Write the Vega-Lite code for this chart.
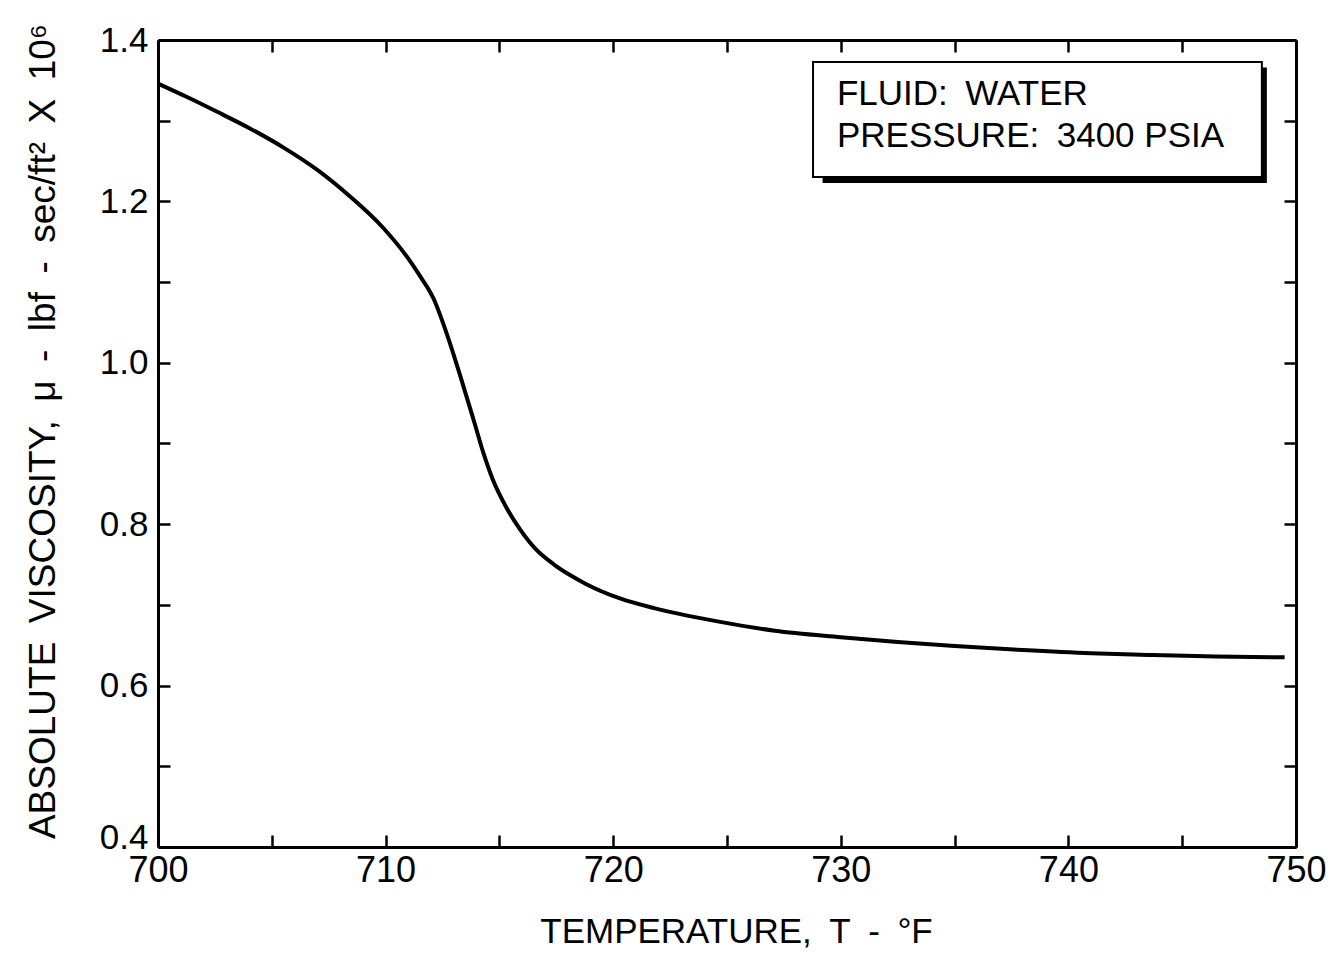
{
  "$schema": "https://vega.github.io/schema/vega-lite/v6.json",
  "width": 1138,
  "height": 807,
  "autosize": "none",
  "padding": {"left": 158, "top": 40, "right": 40, "bottom": 107},
  "background": "white",
  "config": {
    "font": "Liberation Sans",
    "view": {"stroke": null},
    "axis": {
      "grid": false,
      "domainColor": "black",
      "domainWidth": 3,
      "tickColor": "black",
      "tickWidth": 2.5,
      "tickSize": -12,
      "labelColor": "black",
      "labelFont": "Liberation Sans",
      "labelFlush": false,
      "titleColor": "black",
      "titleFont": "Liberation Sans",
      "titleFontWeight": "normal"
    }
  },
  "datasets": {
    "viscosity": [
      {"T": 700.0, "mu": 1.346},
      {"T": 701.3, "mu": 1.329},
      {"T": 702.6, "mu": 1.311},
      {"T": 704.0, "mu": 1.291},
      {"T": 705.5, "mu": 1.267},
      {"T": 707.0, "mu": 1.239},
      {"T": 708.4, "mu": 1.207},
      {"T": 709.9, "mu": 1.167},
      {"T": 711.0, "mu": 1.129},
      {"T": 711.5, "mu": 1.108},
      {"T": 712.1, "mu": 1.080},
      {"T": 712.7, "mu": 1.035},
      {"T": 713.3, "mu": 0.982},
      {"T": 713.9, "mu": 0.926},
      {"T": 714.3, "mu": 0.888},
      {"T": 714.7, "mu": 0.856},
      {"T": 715.3, "mu": 0.821},
      {"T": 715.9, "mu": 0.794},
      {"T": 716.6, "mu": 0.769},
      {"T": 717.4, "mu": 0.750},
      {"T": 718.1, "mu": 0.737},
      {"T": 718.8, "mu": 0.726},
      {"T": 720.3, "mu": 0.708},
      {"T": 721.8, "mu": 0.696},
      {"T": 723.2, "mu": 0.687},
      {"T": 724.7, "mu": 0.679},
      {"T": 727.1, "mu": 0.668},
      {"T": 730.0, "mu": 0.660},
      {"T": 732.5, "mu": 0.654},
      {"T": 735.0, "mu": 0.649},
      {"T": 738.0, "mu": 0.644},
      {"T": 741.0, "mu": 0.640},
      {"T": 743.5, "mu": 0.638},
      {"T": 746.5, "mu": 0.636},
      {"T": 749.5, "mu": 0.635}
    ]
  },
  "layer": [
    {
      "data": {"values": [{}]},
      "mark": {"type": "rect", "fill": "black"},
      "encoding": {
        "x": {"datum": 729.2, "type": "quantitative", "scale": {"domain": [700, 750], "nice": false, "zero": false},
          "axis": {"orient": "top", "values": [700, 705, 710, 715, 720, 725, 730, 735, 740, 745, 750], "labels": false, "title": null}},
        "x2": {"datum": 748.72},
        "y": {"datum": 1.366, "type": "quantitative", "scale": {"domain": [0.4, 1.4], "nice": false, "zero": false},
          "axis": {"orient": "right", "values": [0.4, 0.5, 0.6, 0.7, 0.8, 0.9, 1.0, 1.1, 1.2, 1.3, 1.4], "labels": false, "title": null}},
        "y2": {"datum": 1.2228}
      }
    },
    {
      "data": {"values": [{}]},
      "mark": {"type": "rect", "fill": "white", "stroke": "black", "strokeWidth": 2},
      "encoding": {
        "x": {"datum": 728.78, "type": "quantitative", "axis": null},
        "x2": {"datum": 748.5},
        "y": {"datum": 1.3727, "type": "quantitative", "axis": null},
        "y2": {"datum": 1.2302}
      }
    },
    {
      "data": {"values": [{}]},
      "mark": {"type": "text", "align": "left", "baseline": "alphabetic", "fontSize": 35, "lineHeight": 42, "color": "black", "font": "Liberation Sans"},
      "encoding": {
        "x": {"datum": 729.83, "type": "quantitative", "axis": null},
        "y": {"datum": 1.3195, "type": "quantitative", "axis": null},
        "text": {"value": ["FLUID:\u2002WATER", "PRESSURE:\u20023400 PSIA"]}
      }
    },
    {
      "data": {"name": "viscosity"},
      "mark": {"type": "line", "color": "black", "strokeWidth": 4, "interpolate": "monotone"},
      "encoding": {
        "x": {"field": "T", "type": "quantitative",
          "axis": {"orient": "bottom", "values": [700, 705, 710, 715, 720, 725, 730, 735, 740, 745, 750],
            "labelExpr": "datum.value % 10 === 0 ? datum.label : ''", "format": "d",
            "labelFontSize": 36, "labelPadding": 18, "labelOverlap": false,
            "title": "TEMPERATURE,\u2002T\u2002-\u2002°F", "titleFontSize": 35, "titlePadding": 26, "titleX": 578}},
        "y": {"field": "mu", "type": "quantitative",
          "axis": {"orient": "left", "values": [0.4, 0.5, 0.6, 0.7, 0.8, 0.9, 1.0, 1.1, 1.2, 1.3, 1.4],
            "labelExpr": "datum.value * 10 % 2 < 0.01 || datum.value * 10 % 2 > 1.99 ? format(datum.value, '.1f') : ''",
            "labelFontSize": 35, "labelPadding": 22, "labelOverlap": false,
            "labelOffset": {"condition": {"test": "datum.value < 0.45", "value": -10}, "value": 0},
            "title": "ABSOLUTE\u2002VISCOSITY,\u2002μ\u2002-\u2002lbf\u2002-\u2002sec/ft²\u2002X\u200210⁶", "titleFontSize": 37, "titlePadding": 37, "titleY": 391}}
      }
    }
  ],
  "resolve": {"axis": {"x": "independent", "y": "independent"}}
}
